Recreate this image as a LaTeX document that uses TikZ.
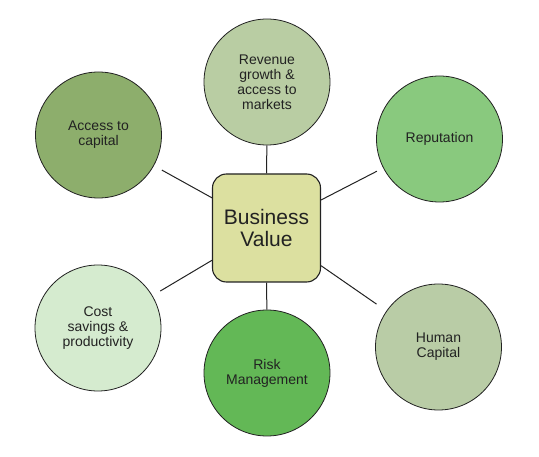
\documentclass[tikz,border=0pt]{standalone}
\usepackage{fontspec}
\setmainfont{Liberation Sans}
\definecolor{boxcol}{RGB}{220,224,160}
\definecolor{revcol}{RGB}{185,205,163}
\definecolor{capcol}{RGB}{141,174,108}
\definecolor{repcol}{RGB}{137,201,126}
\definecolor{costcol}{RGB}{213,235,207}
\definecolor{riskcol}{RGB}{99,184,86}
\definecolor{humcol}{RGB}{185,204,166}
\definecolor{ink}{RGB}{34,34,34}
\begin{document}
\begin{tikzpicture}[x=1pt,y=-1pt,
  main node/.style={circle,draw=ink,line width=0.8pt,minimum size=126pt,inner sep=0pt,
    align=center,text=ink,font=\fontsize{14}{15}\selectfont},
  value node/.style={rectangle,rounded corners=14pt,draw=ink,line width=1.1pt,fill=boxcol,
    minimum size=108pt,inner sep=0pt,align=center,text=ink,font=\fontsize{21}{22}\selectfont}]

  \useasboundingbox (0,0) rectangle (539,457);

  \node[value node] (bv) at (266.5,228) {Business\\Value};

  \node[main node,fill=revcol] (rev) at (267,82) {Revenue\\growth \&\\access to\\markets};
  \node[main node,fill=capcol] (cap) at (98.5,135) {Access to\\capital};
  \node[main node,fill=repcol] (rep) at (439.5,139) {Reputation};
  \node[main node,fill=costcol] (cost) at (98,328) {Cost\\savings \&\\productivity};
  \node[main node,fill=riskcol] (risk) at (267,373) {Risk\\Management};
  \node[main node,fill=humcol] (hum) at (438.5,347) {Human\\Capital};

  \path[draw=ink,line width=1pt]
   (bv) edge (rev)
   (bv) edge (risk)
   (bv) edge[shorten >=9pt] (cap)
   (bv) edge[shorten >=7pt] (rep)
   (bv) edge[shorten >=9pt] (cost)
   (bv) edge[shorten >=12pt] (hum);
\end{tikzpicture}
\end{document}
